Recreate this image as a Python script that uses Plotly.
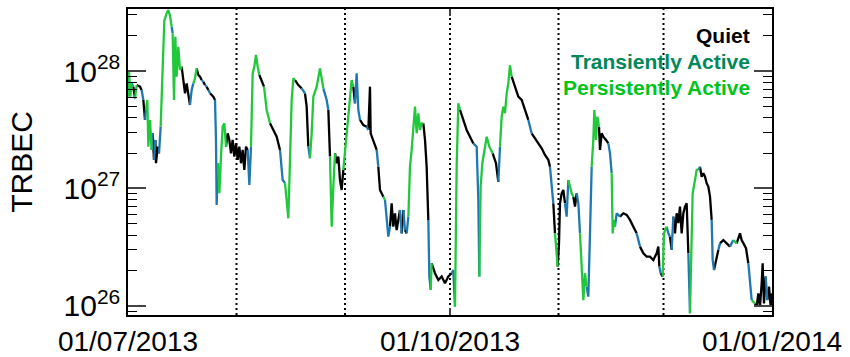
import pandas as pd
import plotly.graph_objects as go

# ---------------- data ----------------
start_date = "2013-07-01"
# days since 2013-07-01
day_offset = [
    0.0, 0.29, 0.67, 1.05, 1.52, 2.0, 2.48, 3.43, 3.9, 4.38, 4.86, 5.14, 5.52, 5.81, 6.29, 6.76,
    7.05, 7.43, 7.81, 8.0, 8.48, 8.86, 9.33, 9.9, 10.38, 11.05, 11.52, 12.0, 12.48, 12.76, 13.14,
    13.52, 13.9, 14.38, 14.86, 15.33, 15.81, 16.29, 16.76, 17.24, 17.71, 18.19, 18.67, 19.14,
    19.62, 20.1, 20.57, 21.05, 21.52, 22.0, 22.48, 22.95, 23.43, 24.38, 24.86, 25.14, 25.33,
    25.71, 26.1, 26.57, 27.05, 27.52, 28.0, 28.48, 28.95, 29.43, 29.9, 30.38, 30.86, 31.33,
    31.81, 32.29, 32.76, 33.24, 33.71, 34.19, 34.67, 35.14, 35.62, 36.1, 36.57, 37.05, 37.52,
    38.19, 38.86, 39.62, 40.57, 41.52, 42.48, 43.43, 44.19, 44.86, 45.33, 45.81, 46.29, 46.76,
    47.24, 47.71, 48.67, 49.62, 50.57, 51.05, 51.52, 52.0, 52.48, 52.95, 53.9, 54.86, 55.33,
    55.81, 56.76, 57.24, 57.71, 58.19, 58.67, 59.14, 59.62, 60.1, 60.57, 61.05, 61.52, 62.48,
    63.43, 63.9, 64.38, 64.86, 65.33, 65.81, 66.29, 67.24, 68.19, 68.67, 69.14, 69.33, 70.1,
    71.05, 71.52, 72.0, 72.95, 73.43, 73.9, 74.38, 74.86, 75.33, 75.81, 76.29, 76.76, 77.71,
    78.19, 78.67, 79.14, 79.62, 80.1, 80.57, 81.05, 81.52, 82.0, 82.48, 82.95, 83.43, 83.9,
    84.38, 84.86, 85.33, 85.81, 86.1, 86.48, 86.76, 87.71, 88.67, 89.62, 90.57, 91.52, 92.48,
    92.95, 93.43, 93.9, 94.38, 94.86, 95.81, 96.76, 97.71, 98.67, 99.62, 100.1, 100.38, 100.76,
    101.24, 101.81, 102.48, 103.24, 104.19, 105.14, 105.81, 106.29, 106.76, 107.24, 107.71,
    108.19, 108.67, 109.14, 109.62, 110.57, 111.52, 112.48, 113.43, 114.38, 115.33, 116.29,
    117.24, 118.19, 119.14, 120.1, 120.57, 121.05, 121.52, 122.0, 122.48, 122.76, 123.14,
    123.43, 123.9, 124.38, 124.86, 125.33, 125.81, 126.29, 126.76, 127.24, 127.71, 128.19,
    128.67, 129.14, 129.62, 130.1, 130.57, 131.05, 131.52, 132.0, 132.48, 132.95, 133.24,
    133.71, 134.1, 134.57, 134.86, 135.33, 135.81, 136.57, 137.24, 137.71, 138.19, 138.48,
    138.86, 139.14, 139.62, 140.57, 141.52, 142.48, 143.43, 144.38, 145.33, 146.29, 147.24,
    148.19, 149.14, 150.1, 151.05, 151.52, 151.81, 152.19, 152.76, 153.14, 153.9, 154.38,
    154.86, 155.33, 155.81, 156.29, 156.76, 157.24, 157.71, 158.19, 158.67, 159.14, 159.62,
    160.1, 160.38, 160.57, 160.86, 161.33, 162.0, 162.48, 162.95, 163.43, 163.9, 164.38,
    164.86, 165.33, 165.81, 166.29, 166.76, 167.05, 167.43, 168.0, 168.67, 169.14, 170.1,
    171.05, 172.0, 172.95, 173.9, 174.86, 175.33, 175.81, 176.57, 177.24, 177.71, 178.19,
    179.14, 179.62, 180.1, 180.57, 181.05, 181.33, 181.71, 182.19, 182.67, 183.14, 183.62, 184.0,
]
# TRBEC in units of 1e27
trbec_e27 = [
    6.05, 9.87, 6.05, 7.85, 7.36, 5.86, 7.6, 7.36, 6.89, 5.67, 3.83, 4.66, 5.67, 2.27, 3.83, 2.13,
    2.95, 1.75, 2.59, 1.64, 2.27, 1.99, 3.36, 10.9, 27.0, 31.0, 33.0, 29.5, 23.8, 21.0, 5.67,
    19.6, 8.95, 16.1, 10.2, 10.9, 8.38, 6.46, 7.85, 6.05, 5.14, 6.89, 7.85, 8.67,
    10.5, 9.25, 8.95, 8.38, 8.11, 7.6, 7.36, 6.89, 6.46, 6.05, 5.67, 2.59, 0.724,
    1.64, 0.91, 1.87, 3.36, 3.59, 2.27, 2.95, 2.59, 1.99, 2.59, 1.87, 2.42, 1.75,
    2.27, 1.64, 2.13, 1.44, 2.27, 2.13, 1.07, 2.27, 9.55, 10.9, 13.7, 10.9, 9.25,
    8.38, 7.36, 4.66, 3.59, 3.15, 2.76, 2.13, 1.18, 1.11, 0.748, 0.557, 1.75, 5.67,
    8.67, 8.38, 7.6, 7.12, 6.46, 4.97, 2.27, 1.81, 2.95, 6.05, 7.36, 10.5, 8.38,
    7.12, 5.67, 4.66, 1.87, 0.473, 1.04, 1.99, 1.64, 1.87, 1.18, 0.971, 1.44, 2.95,
    6.46, 8.38, 7.36, 5.31, 9.55, 4.66, 3.83, 3.47, 3.36, 3.15, 7.36, 2.95, 2.59,
    2.13, 1.53, 0.971, 0.852, 0.798, 0.54, 0.389, 0.473, 0.748, 0.473, 0.615, 0.443, 0.656,
    0.415, 0.656, 0.443, 0.415, 0.576, 1.53, 2.13, 3.15, 4.97, 2.95, 4.37, 3.15, 3.59,
    3.59, 2.59, 1.53, 0.54, 0.178, 0.137, 0.231, 0.19, 0.166, 0.178, 0.156, 0.178, 0.19,
    0.202, 0.0987, 1.53, 5.31, 4.66, 3.83, 3.15, 2.76, 2.42, 2.27, 0.798, 0.178, 1.04,
    1.64, 2.13, 2.76, 2.27, 1.99, 1.64, 1.14, 2.27, 4.09, 4.97, 4.37,
    6.46, 7.85, 11.2, 8.95, 7.36, 6.05, 5.67, 4.66, 3.83, 2.95, 2.67,
    2.42, 2.2, 1.93, 1.75, 1.53, 1.04, 0.748, 0.415, 0.281, 0.216, 0.341,
    0.748, 0.91, 0.971, 0.748, 0.576, 1.18, 1.04, 0.91, 0.852, 0.7, 0.91,
    0.748, 0.415, 0.216, 0.112, 0.19, 0.146, 0.12, 0.415, 1.53, 2.59, 4.66,
    2.59, 4.09, 3.36, 2.13, 2.95, 2.76, 2.59, 2.42, 1.99, 1.35, 0.415,
    0.54, 0.473, 0.615, 0.576, 0.615, 0.595, 0.54, 0.473, 0.415, 0.32, 0.281,
    0.263, 0.263, 0.246, 0.281, 0.32, 0.216, 0.19, 0.178, 0.415, 0.473, 0.415,
    0.389, 0.3, 0.576, 0.415, 0.615, 0.507, 0.7, 0.415, 0.615, 0.7, 0.748,
    0.281, 0.112, 0.0867, 0.281, 0.91, 1.18, 1.44, 1.44, 1.53, 1.26, 1.35,
    1.26, 1.11, 1.04, 0.852, 0.54, 0.246, 0.202, 0.246, 0.3, 0.341, 0.364,
    0.341, 0.32, 0.364, 0.341, 0.415, 0.364, 0.341, 0.31, 0.231, 0.166, 0.112,
    0.105, 0.0987, 0.128, 0.0987, 0.156, 0.231, 0.105, 0.178, 0.112, 0.146, 0.0987, 0.128,
]
# activity state per point: Q = quiet, T = transiently active, P = persistently active
state = list(
    "PPPTQPQQTQTPPPPT"
    "QTQQQTPPPPPPTPP"
    "PPPPQQQQQTTPP"
    "QQQTQTQTQQTTT"
    "PPPPPQQQQQQQQ"
    "QQQQQTTPPPPPQ"
    "QPPQQQTTPPPPP"
    "PQQTQQTPPPPPP"
    "TTQPPPQQQQQPP"
    "PPQTTTQQTQQQQ"
    "TQQPTTTQQQQQT"
    "QTQTPPPPPPPPP"
    "QQQTTPQQQQQQT"
    "TPPPQQQQTTTPP"
    "PPPPQQTPPPP"
    "PPPQQQQQTQQ"
    "QQQQTTQPPQQ"
    "QQQTTPPPQQT"
    "TPPPPTTTPPP"
    "PPQQQQQTTPP"
    "PTTQQQQQTQQ"
    "QQQQQTQPPTT"
    "QTQQQQQQQQQ"
    "TTPPPPPTQQQ"
    "QQQQTTQQTQQ"
    "QTPQQQQQTTP"
    "QQQQQQQTQQQQ"
)
state_colors = {"Q": "#000000", "T": "#1f78b0", "P": "#22c83c"}
legend_labels = ["Quiet", "Transiently Active", "Persistently Active"]
legend_colors = ["#000000", "#00885a", "#00c41a"]
month_lines = ["2013-08-01", "2013-09-01", "2013-10-01", "2013-11-01", "2013-12-01"]
x_tickvals = ["2013-07-01", "2013-10-01", "2014-01-01"]
x_ticktext = ["01/07/2013", "01/10/2013", "01/01/2014"]
y_tickvals = [1e26, 1e27, 1e28]
y_ticktext = ["10<sup>26</sup>", "10<sup>27</sup>", "10<sup>28</sup>"]
y_minor = [m * 10.0 ** e for e in (25, 26, 27, 28) for m in range(2, 10)]

# ---------------- build ----------------
n = min(len(day_offset), len(trbec_e27), len(state))
dates = pd.Timestamp(start_date) + pd.to_timedelta(day_offset[:n], unit="D")
vals = [v * 1e27 for v in trbec_e27[:n]]

segs = {"Q": ([], []), "T": ([], []), "P": ([], [])}
i = 0
while i < n - 1:
    s = state[i]
    j = i
    while j + 1 < n and state[j + 1] == s:
        j += 1
    end = min(j + 1, n - 1)
    xs, ys = segs[s]
    xs.extend(list(dates[i:end + 1]) + [None])
    ys.extend(vals[i:end + 1] + [None])
    i = j + 1

fig = go.Figure()
for s in ["Q", "T", "P"]:
    xs, ys = segs[s]
    fig.add_trace(go.Scatter(x=xs, y=ys, mode="lines", connectgaps=False,
                             line=dict(color=state_colors[s], width=2.3), showlegend=False))

for d in month_lines:
    fig.add_shape(type="line", xref="x", yref="paper", x0=d, x1=d, y0=0, y1=1,
                  line=dict(color="black", width=2, dash="2px,3px"), layer="below")

ly = [0.915, 0.827, 0.745]
for lab, col, yy in zip(legend_labels, legend_colors, ly):
    fig.add_annotation(xref="paper", yref="paper", x=0.969, y=yy, xanchor="right", yanchor="middle",
                       text=f"<b>{lab}</b>", showarrow=False,
                       font=dict(family="Liberation Sans, Arial", size=21, color=col))

font_family = "Liberation Sans, Arial"
fig.update_layout(
    width=850, height=357,
    margin=dict(l=128, r=78, t=9, b=42),
    paper_bgcolor="white", plot_bgcolor="white",
    font=dict(family=font_family, color="black"),
    xaxis=dict(type="date", range=["2013-07-01", "2014-01-01"], automargin=False,
               tickmode="array", tickvals=x_tickvals, ticktext=x_ticktext,
               tickfont=dict(size=28), ticks="inside", ticklen=7, tickwidth=1.5,
               ticklabelstandoff=1,
               showline=True, linecolor="black", linewidth=1.5, mirror="ticks",
               showgrid=False, zeroline=False),
    yaxis=dict(type="log", range=[25.923, 28.528], automargin=False,
               tickmode="array", tickvals=y_tickvals, ticktext=y_ticktext,
               tickfont=dict(size=30), ticks="inside", ticklen=18, tickwidth=1.5,
               minor=dict(tickmode="array", tickvals=y_minor, ticks="inside", ticklen=9,
                          tickwidth=1.2, tickcolor="black", showgrid=False),
               showline=True, linecolor="black", linewidth=1.5, mirror="ticks",
               showgrid=False, zeroline=False,
               title=dict(text="TRBEC", font=dict(size=30), standoff=22)),
)

fig.write_html("out.html")
